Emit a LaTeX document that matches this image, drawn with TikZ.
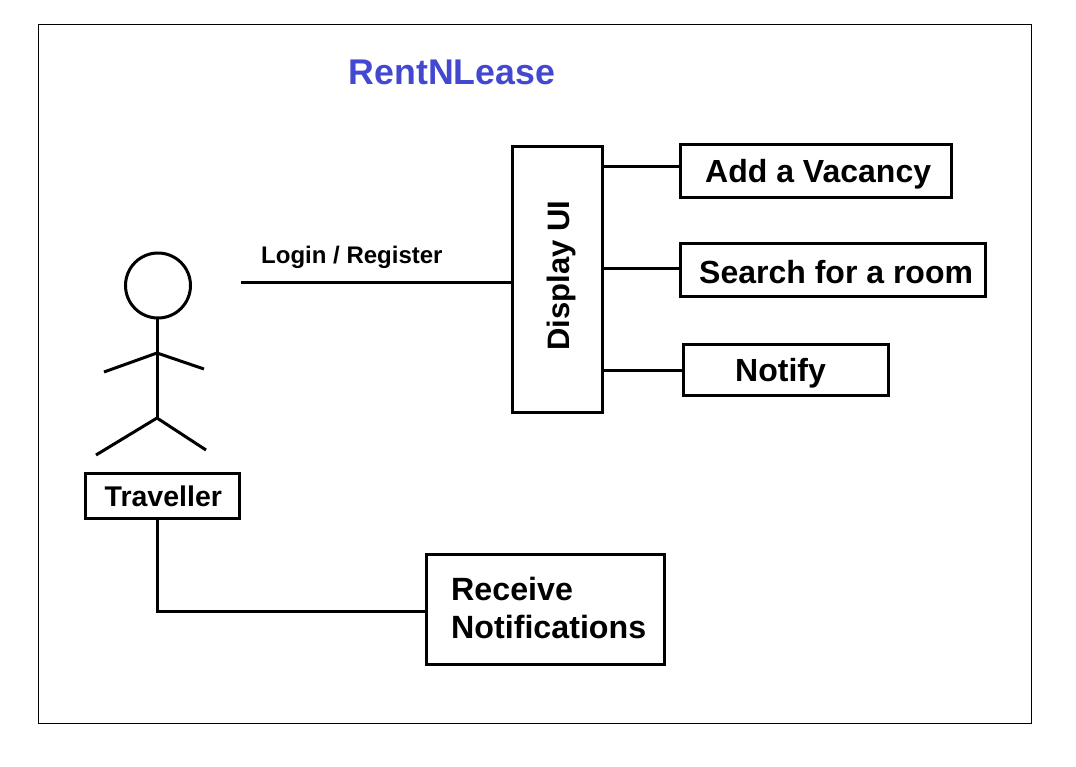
\documentclass[tikz,border=0pt]{standalone}
\usepackage{fontspec}
\setmainfont{Liberation Sans}
\usetikzlibrary{calc}
\begin{document}
\begin{tikzpicture}[x=1pt,y=-1pt,
  line/.style={draw=black,line width=3pt},
  box/.style={draw=black,line width=3pt,fill=white,anchor=north west,inner sep=0pt,font=\bfseries},
  lab/.style={inner sep=0pt,font=\bfseries,anchor=west}]
\useasboundingbox[fill=white] (0,0) rectangle (1076,766);
\node[draw=black,line width=1pt,minimum width=993pt,minimum height=699pt,anchor=north west,inner sep=0pt] (frame) at (37.5,23.5) {};
\node[lab,font=\bfseries\fontsize{35.7}{40}\selectfont,text={rgb,255:red,66;green,72;blue,208}] (title) at (348.5,72) {RentNLease};
% boxes
\node[box,minimum width=90pt,minimum height=266pt] (ui) at (510.5,144.5) {};
\node[lab,font=\bfseries\fontsize{31}{36}\selectfont,rotate=90,anchor=center] (uit) at (561.5,275.5) {Display UI};
\node[box,minimum width=271pt,minimum height=53pt] (add) at (679,143) {};
\node[lab,font=\bfseries\fontsize{32}{36}\selectfont] (addt) at (705,174) {Add a Vacancy};
\node[box,minimum width=305pt,minimum height=53pt] (search) at (679,242) {};
\node[lab,font=\bfseries\fontsize{32}{36}\selectfont] (searcht) at (699,272) {Search for a room};
\node[box,minimum width=205pt,minimum height=51pt] (notify) at (682,343) {};
\node[lab,font=\bfseries\fontsize{32}{36}\selectfont] (notifyt) at (735,373) {Notify};
\node[box,minimum width=154pt,minimum height=45pt] (trav) at (84,472) {};
\node[lab,font=\bfseries\fontsize{28.5}{32}\selectfont] (travt) at (104.5,496) {Traveller};
\node[box,minimum width=238pt,minimum height=110pt] (recv) at (425,553) {};
\node[lab,font=\bfseries\fontsize{32.2}{38}\selectfont,align=left] (recvt) at (451,607.5) {Receive\\Notifications};
\node[lab,font=\bfseries\fontsize{24}{28}\selectfont] (login) at (261,257) {Login / Register};
% connectors: each runs between named nodes, at the height of a named level
\coordinate (free) at (241,282.5);
\coordinate (la) at (0,166.5);
\coordinate (lb) at (0,268.5);
\coordinate (lc) at (0,370.5);
\coordinate (bend) at (157.5,611);
\draw[line] (free) -- (free -| ui.west);
\draw[line] (la -| ui.east) -- (la -| add.west);
\draw[line] ($(lb -| ui.east)+(-2,0)$) -- (lb -| search.west);
\draw[line] (lc -| ui.east) -- (lc -| notify.west);
\draw[line] (bend |- trav.south) -- (bend) -- (bend -| recv.west);
% actor
\coordinate (head) at (158,285.5);
\draw[line] (head) circle[radius=32.5pt];
\coordinate (neck) at (157,318); \coordinate (hip) at (157,418); \coordinate (sh) at (157,353);
\coordinate (hl) at (104,372); \coordinate (hr) at (204,369);
\coordinate (fl) at (96,455); \coordinate (fr) at (206,450);
\draw[line] (neck) -- (hip);
\draw[line] (hl) -- (sh) -- (hr);
\draw[line] (fl) -- (hip) -- (fr);
\end{tikzpicture}
\end{document}
